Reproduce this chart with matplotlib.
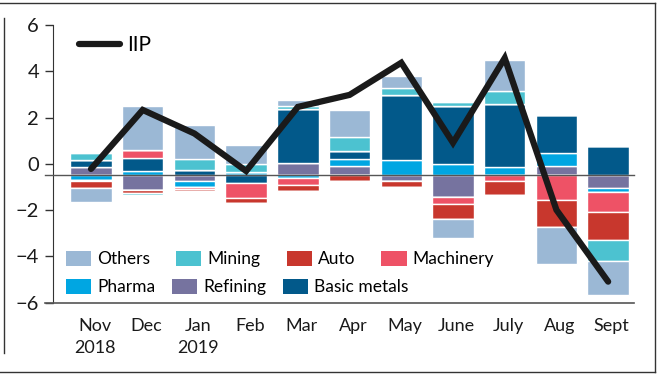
import matplotlib
matplotlib.use("Agg")
import matplotlib.pyplot as plt
from matplotlib.lines import Line2D
from matplotlib.patches import Patch
import numpy as np

plt.rcParams['font.family'] = ['Lato', 'DejaVu Sans']

months = ["Nov\n2018", "Dec", "Jan\n2019", "Feb", "Mar", "Apr", "May", "June", "July", "Aug", "Sept"]

# contributions (percentage points), stacked in this order away from the baseline
refining  = [0.37, -0.62, -0.24, 0.00, 0.52, 0.40, -0.22, -0.93, 0.00, 0.39, -0.53]
pharma    = [-0.19, 0.19, -0.24, 0.16, -0.10, 0.32, 0.65, 0.48, 0.36, 0.60, -0.17]
basic     = [0.30, 0.55, 0.24, -0.33, 2.35, 0.32, 2.81, 2.53, 2.73, 1.61, 1.27]
machinery = [-0.07, 0.38, -0.09, -0.63, -0.32, 0.00, 0.00, -0.29, -0.22, -1.05, -0.88]
auto      = [-0.28, -0.12, -0.09, -0.25, -0.26, -0.22, -0.29, -0.68, -0.62, -1.20, -1.22]
mining    = [0.32, -0.09, 0.47, 0.32, 0.14, 0.62, 0.32, 0.15, 0.54, 0.00, -0.89]
others    = [-0.63, 1.90, 1.46, 0.82, 0.24, 1.15, 0.50, -0.79, 1.34, -1.57, -1.49]

iip = [-0.22, 2.33, 1.31, -0.31, 2.46, 2.98, 4.37, 0.91, 4.57, -1.99, -5.09]

series = [
    ("Refining", refining, "#76739f"),
    ("Pharma", pharma, "#00a6e2"),
    ("Basic metals", basic, "#02598a"),
    ("Machinery", machinery, "#ee5266"),
    ("Auto", auto, "#c8372d"),
    ("Mining", mining, "#4cc2d0"),
    ("Others", others, "#9bb8d5"),
]
colors = {name: c for name, _, c in series}

base = -0.5  # the chart's baseline sits half a point below the 0 tick

fig = plt.figure(figsize=(6.6, 3.76), dpi=100)
ax = fig.add_axes([53/660, 1-302.7/376, 581/660, (302.7-25)/376])

x = np.arange(len(months))
pos_bottom = np.full(len(months), base)
neg_bottom = np.full(len(months), base)
for name, vals, col in series:
    v = np.array(vals)
    p = np.where(v > 0, v, 0)
    n = np.where(v < 0, v, 0)
    ax.bar(x, p, 0.8, bottom=pos_bottom, color=col, edgecolor="white", linewidth=1, zorder=2)
    ax.bar(x, n, 0.8, bottom=neg_bottom, color=col, edgecolor="white", linewidth=1, zorder=2)
    pos_bottom += p
    neg_bottom += n

tr = ax.get_yaxis_transform()
ax.plot([-0.014, 1], [base, base], color="#555555", lw=1, transform=tr, clip_on=False, zorder=3)
ax.plot([-0.014, 1], [-6, -6], color="#555555", lw=1.2, transform=tr, clip_on=False, zorder=3)

line, = ax.plot(x, iip, color="#1a1a1a", lw=4.5, solid_capstyle="round",
                solid_joinstyle="miter", zorder=4)

ax.set_xlim(-0.735, 10.5)
ax.set_ylim(-6, 6)
ax.set_yticks([-6, -4, -2, 0, 2, 4, 6])
ax.set_xticks(x + 0.07)
ax.set_xticklabels(months, fontsize=13, linespacing=1.45, va="top")
ax.tick_params(axis="x", length=0, pad=11, colors="#1a1a1a")
ax.tick_params(axis="y", length=6, width=1, pad=4, labelsize=14.5, colors="#333333", labelcolor="#1a1a1a")
for s in ["top", "right", "bottom"]:
    ax.spines[s].set_visible(False)
ax.spines["left"].set_color("#333333")

# IIP legend
leg1 = ax.legend([line], ["IIP"], loc="upper left", bbox_to_anchor=(0.012, 1.03), frameon=False,
                 fontsize=15, handlelength=2.0, handletextpad=0.3)
ax.add_artist(leg1)

def patches(names):
    return [Patch(facecolor=colors[n], edgecolor="none") for n in names]

row1 = ["Others", "Mining", "Auto", "Machinery"]
row2 = ["Pharma", "Refining", "Basic metals"]
kw = dict(frameon=False, fontsize=12.5, handlelength=1.45, handleheight=1.0,
          handletextpad=0.35, borderpad=0, borderaxespad=0)
leg2 = ax.legend(patches(row1), row1, ncol=4, columnspacing=1.5, loc="center left",
                 bbox_to_anchor=(13/581, 1-(259-25)/277.7), **kw)
ax.add_artist(leg2)
ax.legend(patches(row2), row2, ncol=3, columnspacing=0.95, loc="center left",
          bbox_to_anchor=(13/581, 1-(287-25)/277.7), **kw)

# outer frame
fc = "#333333"
fig.add_artist(Line2D([0, 0.9924], [0.992, 0.992], color=fc, lw=1))
fig.add_artist(Line2D([0.9924, 0.9924], [0.992, 0.0106], color=fc, lw=1))
fig.add_artist(Line2D([0, 0.9924], [0.0106, 0.0106], color=fc, lw=1))
fig.add_artist(Line2D([0.006, 0.006], [0.952, 0.061], color=fc, lw=1))

fig.savefig("out.png", dpi=100)
